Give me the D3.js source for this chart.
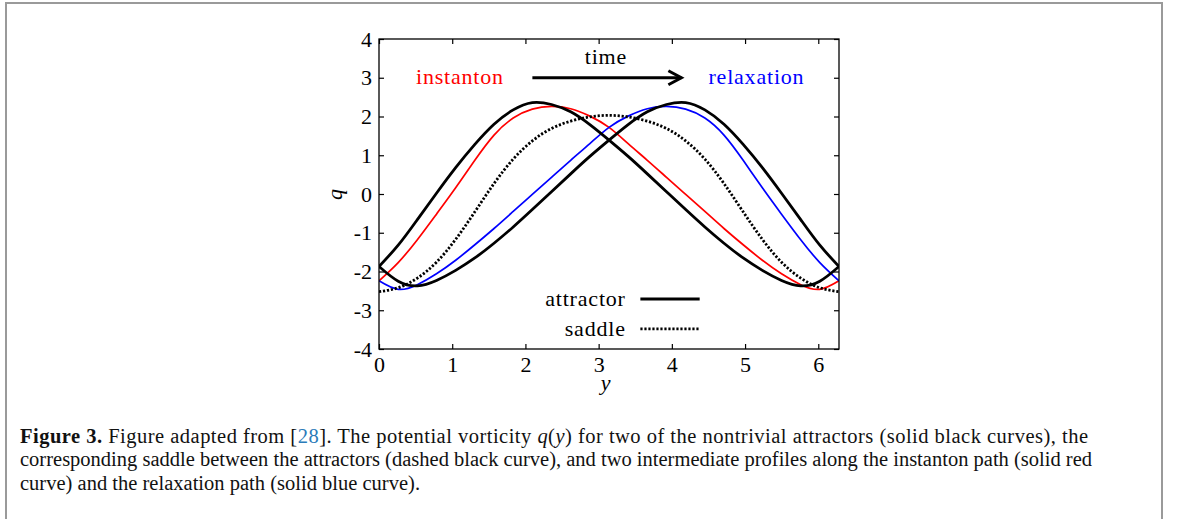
<!DOCTYPE html>
<html>
  <head>
    <title>Potential vorticity profiles</title>
    <script src="https://d3js.org/d3.v7.min.js"></script>
    <style>
      body, html {
        margin: 0;
        width: 100%;
        height: 100%;
        overflow: hidden;
        background: #fff;
      }
      #figure {
        display: block;
      }
      .tickText {
        font-family: 'Liberation Serif', serif;
        font-size: 22px;
        fill: #000;
      }
      .label {
        font-family: 'Liberation Serif', serif;
        font-size: 22px;
        letter-spacing: 0.8px;
      }
      .caption {
        font-family: 'Liberation Serif', serif;
        font-size: 20.5px;
        fill: #111;
      }
    </style>
  </head>
  <body>
    <svg id="figure" width="1179" height="519"></svg>
    <script>
      // sample points along y (0 .. 2*pi)
      const yGrid = [0, 0.262, 0.524, 0.785, 1.047, 1.309, 1.571, 1.833, 2.094, 2.356, 2.618, 2.880, 3.142,
                     3.403, 3.665, 3.927, 4.189, 4.451, 4.712, 4.974, 5.236, 5.498, 5.760, 6.021, 6.283];

      // q(y) for each profile
      const attractorLeft = [-1.87, -1.32, -0.66, 0.02, 0.68, 1.28, 1.80, 2.17, 2.36, 2.31, 2.12, 1.79, 1.39,
                             0.97, 0.52, 0.06, -0.40, -0.85, -1.27, -1.65, -1.97, -2.23, -2.37, -2.25, -1.87];
      const attractorRight = [-1.87, -2.25, -2.37, -2.23, -1.97, -1.65, -1.27, -0.85, -0.40, 0.06, 0.52, 0.97, 1.39,
                              1.79, 2.12, 2.31, 2.36, 2.17, 1.80, 1.28, 0.68, 0.02, -0.66, -1.32, -1.87];
      const saddle = [-2.52, -2.42, -2.17, -1.76, -1.17, -0.46, 0.27, 0.90, 1.37, 1.69, 1.88, 1.99, 2.03,
                      1.99, 1.88, 1.69, 1.37, 0.90, 0.27, -0.46, -1.17, -1.76, -2.17, -2.42, -2.52];
      const instanton = [-2.24, -1.77, -1.18, -0.52, 0.16, 0.87, 1.52, 1.96, 2.19, 2.26, 2.20, 2.01, 1.72,
                         1.30, 0.87, 0.43, -0.01, -0.45, -0.89, -1.31, -1.71, -2.06, -2.34, -2.46, -2.24];
      const relaxation = [-2.24, -2.46, -2.34, -2.06, -1.71, -1.31, -0.89, -0.45, -0.01, 0.43, 0.87, 1.30, 1.72,
                          2.01, 2.20, 2.26, 2.19, 1.96, 1.52, 0.87, 0.16, -0.52, -1.18, -1.77, -2.24];

      const xTicks = [0, 1, 2, 3, 4, 5, 6];
      const yTicks = [-4, -3, -2, -1, 0, 1, 2, 3, 4];

      const svg = d3.select("#figure");

      // outer figure border
      svg.append("rect")
        .attr("x", 6).attr("y", 3)
        .attr("width", 1156).attr("height", 540)
        .attr("fill", "none")
        .attr("stroke", "#9a9a9a")
        .attr("stroke-width", 2);

      const x = d3.scaleLinear().domain([0, 6.283]).range([379, 839]);
      const y = d3.scaleLinear().domain([-4, 4]).range([349, 39]);

      const plot = svg.append("g");

      // axes with inward ticks on all four sides
      const styleAxis = g => {
        g.select(".domain").remove();
        g.selectAll(".tick line").attr("stroke", "#000").attr("stroke-width", 1.2);
        g.selectAll(".tick text").attr("class", "tickText").attr("font-family", null).attr("font-size", null);
      };

      plot.append("g")
        .attr("transform", `translate(0,${y(-4)})`)
        .call(d3.axisBottom(x).tickValues(xTicks).tickSizeInner(-5).tickSizeOuter(0).tickPadding(7)
          .tickFormat(d => String(d)))
        .call(styleAxis);
      plot.append("g")
        .attr("transform", `translate(0,${y(4)})`)
        .call(d3.axisTop(x).tickValues(xTicks).tickSizeInner(-5).tickSizeOuter(0).tickFormat(""))
        .call(styleAxis);
      plot.append("g")
        .attr("transform", `translate(${x(0)},0)`)
        .call(d3.axisLeft(y).tickValues(yTicks).tickSizeInner(-5).tickSizeOuter(0).tickPadding(7)
          .tickFormat(d => String(d)))
        .call(styleAxis);
      plot.append("g")
        .attr("transform", `translate(${x(6.283)},0)`)
        .call(d3.axisRight(y).tickValues(yTicks).tickSizeInner(-5).tickSizeOuter(0).tickFormat(""))
        .call(styleAxis);

      // clip curves to the frame
      svg.append("clipPath").attr("id", "frameClip")
        .append("rect")
        .attr("x", x(0)).attr("y", y(4))
        .attr("width", x(6.283) - x(0)).attr("height", y(-4) - y(4));

      const line = d3.line()
        .x((d, i) => x(yGrid[i]))
        .y(d => y(d))
        .curve(d3.curveNatural);

      const curves = plot.append("g").attr("clip-path", "url(#frameClip)");
      const profiles = [
        { values: instanton, color: "#ff0000", width: 1.7, dash: null },
        { values: relaxation, color: "#0000ff", width: 1.7, dash: null },
        { values: saddle, color: "#000", width: 2.8, dash: "2.2,1.8" },
        { values: attractorLeft, color: "#000", width: 2.8, dash: null },
        { values: attractorRight, color: "#000", width: 2.8, dash: null }
      ];
      curves.selectAll("path")
        .data(profiles)
        .enter()
        .append("path")
        .attr("d", d => line(d.values))
        .attr("fill", "none")
        .attr("stroke", d => d.color)
        .attr("stroke-width", d => d.width)
        .attr("stroke-dasharray", d => d.dash);

      // frame
      plot.append("rect")
        .attr("x", x(0)).attr("y", y(4))
        .attr("width", x(6.283) - x(0)).attr("height", y(-4) - y(4))
        .attr("fill", "none")
        .attr("stroke", "#000")
        .attr("stroke-width", 1.3);

      // axis titles
      plot.append("text")
        .attr("transform", `translate(342,${y(0)}) rotate(-90)`)
        .attr("text-anchor", "middle")
        .attr("class", "label")
        .style("font-style", "italic")
        .text("q");
      plot.append("text")
        .attr("x", x(3.1)).attr("y", 390)
        .attr("text-anchor", "middle")
        .attr("class", "label")
        .style("font-style", "italic")
        .text("y");

      // annotations: time arrow
      plot.append("text")
        .attr("x", x(3.1)).attr("y", y(3.35))
        .attr("text-anchor", "middle")
        .attr("class", "label")
        .text("time");
      plot.append("text")
        .attr("x", x(0.505)).attr("y", y(2.85))
        .attr("class", "label")
        .attr("fill", "#ff0000")
        .text("instanton");
      plot.append("text")
        .attr("x", x(4.5)).attr("y", y(2.85))
        .attr("class", "label")
        .attr("fill", "#0000ff")
        .text("relaxation");

      const arrowY = y(3.0);
      plot.append("line")
        .attr("x1", x(2.095)).attr("x2", x(4.13))
        .attr("y1", arrowY).attr("y2", arrowY)
        .attr("stroke", "#000").attr("stroke-width", 3);
      plot.append("path")
        .attr("d", `M${x(4.13) - 13},${arrowY - 7} L${x(4.13)},${arrowY} L${x(4.13) - 13},${arrowY + 7}`)
        .attr("fill", "none")
        .attr("stroke", "#000").attr("stroke-width", 3)
        .attr("stroke-linejoin", "miter");

      // legend
      const legendItems = [
        { name: "attractor", q: -2.71, dash: null },
        { name: "saddle", q: -3.48, dash: "2.2,1.8" }
      ];
      const legend = plot.selectAll(".legendItem")
        .data(legendItems)
        .enter()
        .append("g")
        .attr("class", "legendItem");
      legend.append("text")
        .attr("x", x(3.37)).attr("y", d => y(d.q) + 7)
        .attr("text-anchor", "end")
        .attr("class", "label")
        .text(d => d.name);
      legend.append("line")
        .attr("x1", x(3.57)).attr("x2", x(4.38))
        .attr("y1", d => y(d.q)).attr("y2", d => y(d.q))
        .attr("stroke", "#000").attr("stroke-width", 2.8)
        .attr("stroke-dasharray", d => d.dash);

      // caption, one text element per line, each set to its line width
      const cap1 = svg.append("text").attr("class", "caption")
        .attr("x", 20).attr("y", 443)
        .attr("textLength", 1068).attr("lengthAdjust", "spacing");
      cap1.append("tspan").attr("font-weight", "bold").text("Figure 3.");
      cap1.append("tspan").text(" Figure adapted from [");
      cap1.append("tspan").attr("fill", "#2b7bb9").text("28");
      cap1.append("tspan").text("]. The potential vorticity ");
      cap1.append("tspan").attr("font-style", "italic").text("q");
      cap1.append("tspan").text("(");
      cap1.append("tspan").attr("font-style", "italic").text("y");
      cap1.append("tspan").text(") for two of the nontrivial attractors (solid black curves), the");

      svg.append("text").attr("class", "caption")
        .attr("x", 20).attr("y", 466)
        .attr("textLength", 1072).attr("lengthAdjust", "spacing")
        .text("corresponding saddle between the attractors (dashed black curve), and two intermediate profiles along the instanton path (solid red");
      svg.append("text").attr("class", "caption")
        .attr("x", 20).attr("y", 490)
        .attr("textLength", 400).attr("lengthAdjust", "spacing")
        .text("curve) and the relaxation path (solid blue curve).");
    </script>
  </body>
</html>
